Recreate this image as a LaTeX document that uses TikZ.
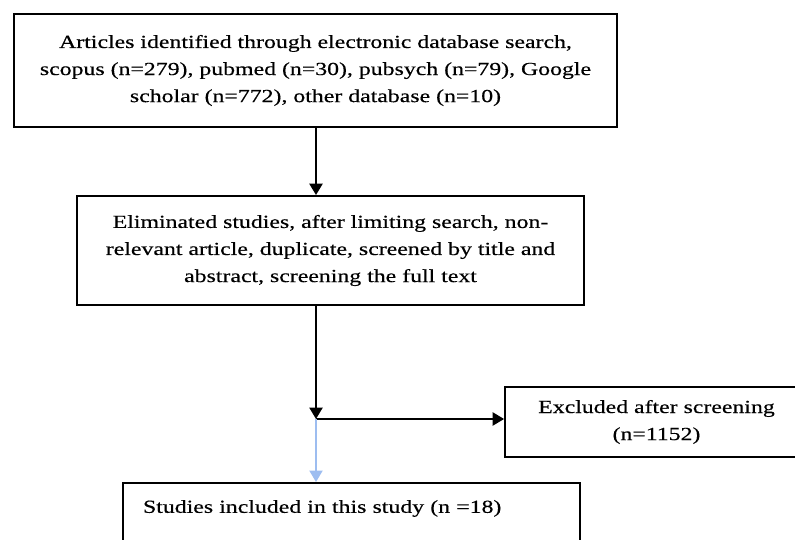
\documentclass[tikz,border=0pt]{standalone}
\usepackage{fontspec}
\setmainfont{Liberation Serif}[FakeStretch=1.29, FakeBold=0.4]
\usetikzlibrary{arrows.meta}
\definecolor{hellblau}{HTML}{9DBDF0}

\begin{document}
\begin{tikzpicture}[
		x=0.02cm, y=-0.02cm,		% 1 Einheit = 1 Pixel
		>={Triangle[length=6.5pt,width=7.5pt]},	% Standardpfeilspitzen
		line width=1.1pt,
		kasten/.style={draw, rectangle, line width=1.1pt, inner sep=0pt, align=center,
			font=\fontsize{10.5}{15.4}\selectfont}
	]
	\useasboundingbox (0,0) rectangle (795,540);

	% Knoten
	\node[kasten, minimum width=12.06cm, minimum height=2.26cm] (suche) at (315.5,70.5) {
		Articles identified through electronic database search,\\
		scopus (n=279), pubmed (n=30), pubsych (n=79), Google\\
		scholar (n=772), other database (n=10)
	};
	\node[kasten, minimum width=10.14cm, minimum height=2.18cm] (eliminiert) at (330.5,250.5) {
		Eliminated studies, after limiting search, non-\\
		relevant article, duplicate, screened by title and\\
		abstract, screening the full text
	};
	\node[kasten, minimum width=6.06cm, minimum height=1.4cm] (ausgeschlossen) at (656.5,422) {
		Excluded after screening\\
		(n=1152)
	};
	\node[kasten, anchor=north, align=left, text width=8.34cm, inner xsep=0.4cm, inner ysep=9pt,
		text height=8pt, text depth=50pt] (eingeschlossen) at (351.5,482) {
		Studies included in this study (n =18)
	};
	\coordinate (abzweig) at (316,419);

	% Pfeil 1: Suche -> Eliminiert
	\draw[->] (suche.south -| abzweig) -- (abzweig |- eliminiert.north);

	% Pfeil 2: Eliminiert -> Abzweig -> Ausgeschlossen
	\draw[->] (eliminiert.south -| abzweig) -- (abzweig);
	\draw[->] (abzweig) -- (abzweig -| ausgeschlossen.west);

	% Pfeil 3: hellblau nach unten
	\draw[->, hellblau, line width=0.8pt] (abzweig) -- (abzweig |- eingeschlossen.north);

\end{tikzpicture}
\end{document}
